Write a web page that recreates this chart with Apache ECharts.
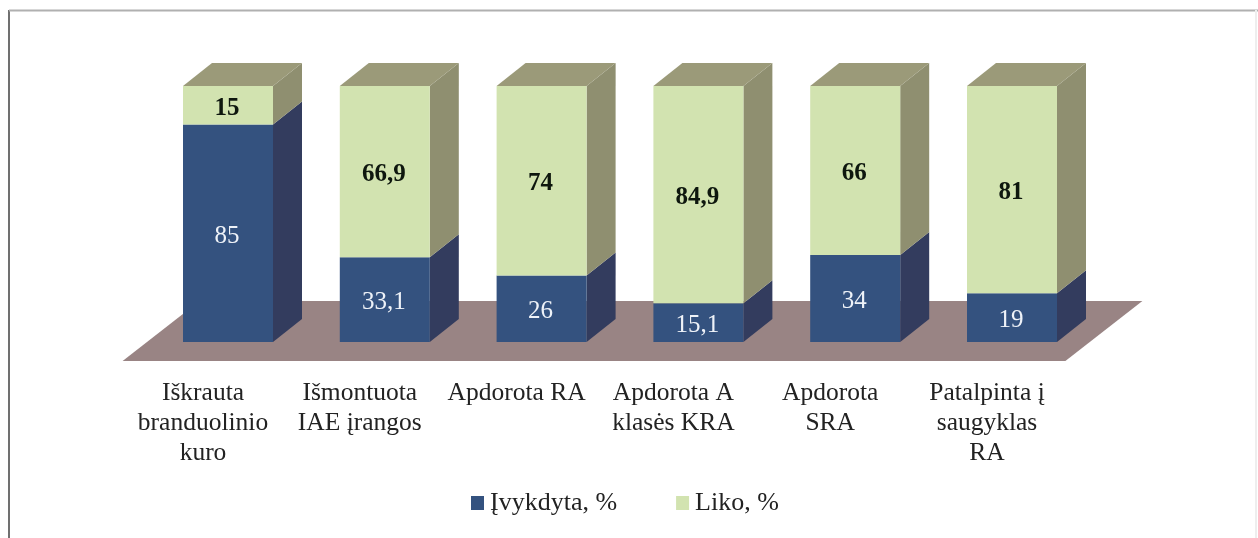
<!DOCTYPE html>
<html>
<head>
<meta charset="utf-8">
<style>
  html, body { margin: 0; padding: 0; background: #fff; }
  #chart { width: 1258px; height: 538px; }
</style>
<script src="https://cdn.jsdelivr.net/npm/echarts@6/dist/echarts.min.js"></script>
</head>
<body>
<div id="chart"></div>
<script>
var categories = [
  "Iškrauta\nbranduolinio\nkuro",
  "Išmontuota\nIAE įrangos",
  "Apdorota RA",
  "Apdorota A\nklasės KRA",
  "Apdorota\nSRA",
  "Patalpinta į\nsaugyklas\nRA"
];
var done = [85, 33.1, 26, 15.1, 34, 19];
var left = [15, 66.9, 74, 84.9, 66, 81];

var FONT = '"Liberation Serif", serif';
var BAR_W = 90;
var DEPTH_X = 29;
var DEPTH_Y = 23;

function fmt(v) {
  return String(v).replace(".", ",");
}

// one stacked block: front, side, optional top, and the value
function drawBlock(colors, isTop) {
  return function (params, api) {
    var c = api.value(0);
    var low = api.coord([c, api.value(1)]);
    var high = api.coord([c, api.value(2)]);
    var x0 = low[0] - BAR_W / 2;
    var x1 = low[0] + BAR_W / 2;
    var y0 = low[1];
    var y1 = high[1];
    var kids = [
      {
        type: "polygon",
        shape: { points: [[x1, y0], [x1 + DEPTH_X, y0 - DEPTH_Y], [x1 + DEPTH_X, y1 - DEPTH_Y], [x1, y1]] },
        style: { fill: colors.side }
      },
      {
        type: "rect",
        shape: { x: x0, y: y1, width: BAR_W, height: y0 - y1 },
        style: { fill: colors.front }
      },
      {
        type: "text",
        style: {
          x: low[0] - 1,
          y: (y0 + y1) / 2 + 3,
          text: fmt(api.value(3)),
          fill: colors.text,
          font: colors.weight + " 25px " + FONT,
          align: "center",
          verticalAlign: "middle"
        }
      }
    ];
    if (isTop) {
      kids.push({
        type: "polygon",
        shape: { points: [[x0, y1], [x1, y1], [x1 + DEPTH_X, y1 - DEPTH_Y], [x0 + DEPTH_X, y1 - DEPTH_Y]] },
        style: { fill: colors.top }
      });
    }
    return { type: "group", children: kids };
  };
}

var myChart = echarts.init(document.getElementById("chart"));

myChart.setOption({
  animation: false,
  backgroundColor: "#fff",
  graphic: [
    { type: "line", silent: true, shape: { x1: 9, y1: 10, x2: 9, y2: 538 }, style: { stroke: "#707070", lineWidth: 2 } },
    { type: "line", silent: true, shape: { x1: 9, y1: 10.5, x2: 1258, y2: 10.5 }, style: { stroke: "#b0b0b0", lineWidth: 2 } },
    { type: "line", silent: true, shape: { x1: 1256, y1: 10, x2: 1256, y2: 538 }, style: { stroke: "#eeeeee", lineWidth: 2 } }
  ],
  legend: {
    left: 466,
    top: 485,
    itemWidth: 13,
    itemHeight: 14,
    itemGap: 59,
    icon: "rect",
    data: ["Įvykdyta, %", "Liko, %"],
    textStyle: { fontFamily: FONT, fontSize: 26, color: "#222", padding: [0, 0, 0, 1] }
  },
  grid: { left: 149.6, width: 940.8, top: 86, height: 256 },
  xAxis: {
    type: "category",
    data: categories,
    axisLine: { show: false },
    axisTick: { show: false },
    axisLabel: {
      interval: 0,
      margin: 36,
      lineHeight: 30,
      fontFamily: FONT,
      fontSize: 25.5,
      color: "#222",
      padding: [0, 50, 0, 0]
    }
  },
  yAxis: { type: "value", min: 0, max: 100, show: false },
  series: [
    {
      // floor plate under the bars
      type: "custom",
      name: "floor",
      silent: true,
      z: 1,
      data: [[0]],
      renderItem: function (params) {
        var g = params.coordSys;
        var bottom = g.y + g.height;
        return {
          type: "polygon",
          shape: {
            points: [
              [g.x - 27, bottom + 19],
              [g.x + g.width - 25, bottom + 19],
              [g.x + g.width + 52, bottom - 41],
              [g.x + 50, bottom - 41]
            ]
          },
          style: { fill: "#998484" }
        };
      }
    },
    {
      type: "custom",
      name: "Įvykdyta, %",
      z: 2,
      itemStyle: { color: "#34527f" },
      encode: { x: 0, y: [1, 2] },
      data: done.map(function (v, i) { return [i, 0, v, v]; }),
      renderItem: drawBlock({ front: "#34527f", side: "#333c5e", text: "#eef2f8", weight: "normal" }, false)
    },
    {
      type: "custom",
      name: "Liko, %",
      z: 2,
      itemStyle: { color: "#d2e3b0" },
      encode: { x: 0, y: [1, 2] },
      data: left.map(function (v, i) { return [i, done[i], done[i] + v, v]; }),
      renderItem: drawBlock({ front: "#d2e3b0", side: "#8f8f70", top: "#9b9a79", text: "#0e170e", weight: "bold" }, true)
    }
  ]
});
</script>
</body>
</html>
